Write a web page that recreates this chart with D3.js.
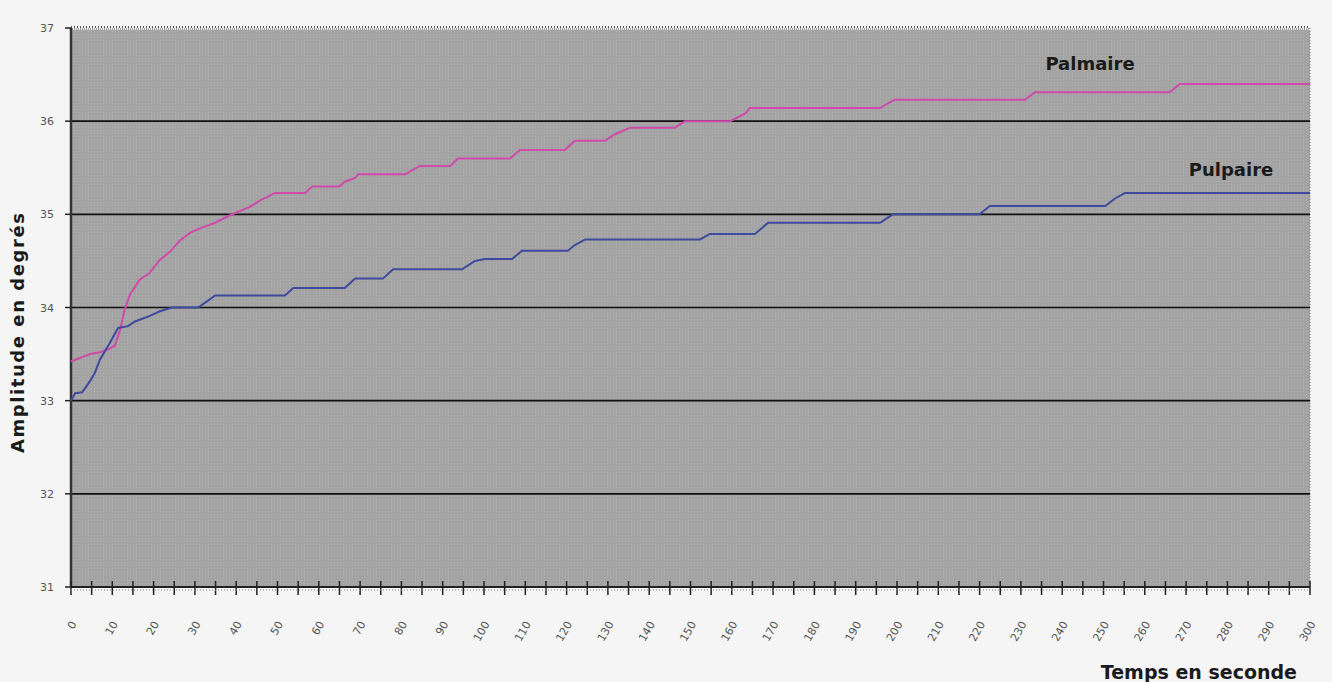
<!DOCTYPE html>
<html>
<head>
<meta charset="utf-8">
<script src="https://cdn.jsdelivr.net/npm/d3@7"></script>
<style>
  body { margin: 0; background: #ffffff; }
  svg { display: block; }
  .tick-label { font-family: "DejaVu Sans", Verdana, sans-serif; font-size: 11px; fill: #555; }
  .title { font-family: "DejaVu Sans", Verdana, sans-serif; font-weight: bold; fill: #1a1a1a; }
</style>
</head>
<body>
<svg width="1332" height="682"></svg>
<script>
'use strict';

// y ticks (degrees)
var yTicks = [31, 32, 33, 34, 35, 36, 37];
// x tick labels (seconds)
var xLabels = d3.range(0, 301, 10);

// Palmaire series
var palmaireTime = [0, 4.6, 7, 9.4, 10.6, 11.9, 13, 14.3, 16.7, 19, 21.5, 24, 26.4, 28.8, 31.2, 34.9, 38.5, 43.3, 45.8, 47.7, 49.4, 56.7, 58.4, 65, 66.3, 68.8, 69.5, 81, 82.4, 84.5, 91.8, 93.7, 106.3, 108.7, 119.6, 122, 129.3, 131.7, 135.4, 146.2, 148.7, 159.6, 163.2, 164.4, 195.9, 197.8, 199.5, 231, 233.4, 266, 268.5, 300];
var palmaireValue = [33.42, 33.5, 33.52, 33.56, 33.59, 33.76, 33.98, 34.14, 34.3, 34.37, 34.51, 34.6, 34.72, 34.8, 34.85, 34.91, 34.99, 35.08, 35.15, 35.19, 35.23, 35.23, 35.3, 35.3, 35.35, 35.39, 35.43, 35.43, 35.47, 35.52, 35.52, 35.6, 35.6, 35.69, 35.69, 35.79, 35.79, 35.86, 35.93, 35.93, 36.0, 36.0, 36.08, 36.14, 36.14, 36.19, 36.23, 36.23, 36.31, 36.31, 36.4, 36.4];

// Pulpaire series
var pulpaireTime = [0, 1, 2.7, 4.6, 5.8, 7, 9.4, 11.4, 13.8, 15.5, 19.1, 21.5, 24.5, 30.8, 32.4, 34.9, 51.8, 53.8, 66.3, 68.8, 75.5, 78, 94.7, 97.8, 100.2, 106.8, 109.2, 120.3, 122, 124.5, 152.3, 154.7, 165.6, 168.8, 195.9, 199, 220, 222.5, 250.4, 252.8, 255.2, 300];
var pulpaireValue = [33.0, 33.08, 33.09, 33.21, 33.3, 33.44, 33.62, 33.78, 33.8, 33.85, 33.91, 33.96, 34.0, 34.0, 34.05, 34.13, 34.13, 34.21, 34.21, 34.31, 34.31, 34.41, 34.41, 34.5, 34.52, 34.52, 34.61, 34.61, 34.67, 34.73, 34.73, 34.79, 34.79, 34.91, 34.91, 35.0, 35.0, 35.09, 35.09, 35.17, 35.23, 35.23];

var svg = d3.select('svg');

var plotLeft = 71, plotRight = 1310, plotTop = 28, plotBottom = 587;

var x = d3.scaleLinear().domain([0, 300]).range([plotLeft, plotRight]);
var y = d3.scaleLinear().domain([31, 37]).range([plotBottom, plotTop]);

// page background
svg.append('rect').attr('width', 1332).attr('height', 682).attr('fill', '#f4f5f4');

// dotted texture for plot area
var defs = svg.append('defs');
var pat = defs.append('pattern')
    .attr('id', 'dots')
    .attr('width', 3)
    .attr('height', 3)
    .attr('patternUnits', 'userSpaceOnUse');
pat.append('rect').attr('width', 3).attr('height', 3).attr('fill', '#a3a3a3');
pat.append('rect').attr('x', 1).attr('y', 1).attr('width', 1).attr('height', 1).attr('fill', '#b1b1b1');

svg.append('rect')
    .attr('x', plotLeft)
    .attr('y', plotTop)
    .attr('width', plotRight - plotLeft)
    .attr('height', plotBottom - plotTop)
    .attr('fill', 'url(#dots)');

// dotted top border
svg.append('line')
    .attr('x1', plotLeft).attr('x2', plotRight)
    .attr('y1', plotTop - 1).attr('y2', plotTop - 1)
    .attr('stroke', '#555')
    .attr('stroke-width', 2)
    .attr('stroke-dasharray', '1,2');
svg.append('line')
    .attr('x1', plotLeft).attr('x2', plotRight)
    .attr('y1', plotTop + 1).attr('y2', plotTop + 1)
    .attr('stroke', '#fff')
    .attr('stroke-width', 1.5)
    .attr('stroke-dasharray', '1,1');
svg.append('line')
    .attr('x1', plotRight).attr('x2', plotRight)
    .attr('y1', plotTop).attr('y2', plotBottom)
    .attr('stroke', '#777')
    .attr('stroke-width', 1)
    .attr('stroke-dasharray', '1,2');

// horizontal gridlines
svg.append('g').selectAll('line')
    .data(yTicks.filter(function (d) { return d > 31 && d < 37; }))
    .enter().append('line')
    .attr('x1', plotLeft).attr('x2', plotRight)
    .attr('y1', function (d) { return y(d); })
    .attr('y2', function (d) { return y(d); })
    .attr('stroke', '#111')
    .attr('stroke-width', 1.6);

// y axis
var yAxis = svg.append('g');
yAxis.append('line')
    .attr('x1', plotLeft).attr('x2', plotLeft)
    .attr('y1', plotTop).attr('y2', plotBottom)
    .attr('stroke', '#333')
    .attr('stroke-width', 2.5);
yAxis.selectAll('line.tk')
    .data(yTicks)
    .enter().append('line')
    .attr('class', 'tk')
    .attr('x1', plotLeft - 6).attr('x2', plotLeft)
    .attr('y1', function (d) { return y(d); })
    .attr('y2', function (d) { return y(d); })
    .attr('stroke', '#222')
    .attr('stroke-width', 1.5);
yAxis.selectAll('text')
    .data(yTicks)
    .enter().append('text')
    .attr('class', 'tick-label')
    .attr('x', 47)
    .attr('y', function (d) { return y(d) + 4; })
    .attr('text-anchor', 'middle')
    .attr('font-size', 12)
    .text(function (d) { return d; });

// x axis
var xAxis = svg.append('g');
xAxis.append('line')
    .attr('x1', plotLeft).attr('x2', plotRight)
    .attr('y1', plotBottom).attr('y2', plotBottom)
    .attr('stroke', '#222')
    .attr('stroke-width', 2);
xAxis.selectAll('line.tk')
    .data(d3.range(0, 301, 5))
    .enter().append('line')
    .attr('class', 'tk')
    .attr('x1', function (d) { return x(d); })
    .attr('x2', function (d) { return x(d); })
    .attr('y1', plotBottom - 6)
    .attr('y2', plotBottom + 8)
    .attr('stroke', '#222')
    .attr('stroke-width', 1.5);
xAxis.append('line')
    .attr('x1', plotLeft).attr('x2', plotRight)
    .attr('y1', plotBottom + 3).attr('y2', plotBottom + 3)
    .attr('stroke', '#888')
    .attr('stroke-width', 1)
    .attr('stroke-dasharray', '1,2');
xAxis.selectAll('text')
    .data(xLabels)
    .enter().append('text')
    .attr('class', 'tick-label')
    .attr('text-anchor', 'end')
    .attr('font-size', 13)
    .attr('transform', function (d) {
        return 'translate(' + (x(d) + 6) + ',' + 624 + ') rotate(-60)';
    })
    .text(function (d) { return d; });

// series
var line = d3.line()
    .x(function (d) { return x(d[0]); })
    .y(function (d) { return y(d[1]); });

svg.append('path')
    .datum(d3.zip(palmaireTime, palmaireValue))
    .attr('d', line)
    .attr('fill', 'none')
    .attr('stroke', '#cf4aaa')
    .attr('stroke-width', 2);

svg.append('path')
    .datum(d3.zip(pulpaireTime, pulpaireValue))
    .attr('d', line)
    .attr('fill', 'none')
    .attr('stroke', '#3f4a9e')
    .attr('stroke-width', 2);

// series labels
svg.append('text')
    .attr('class', 'title')
    .attr('x', 1090).attr('y', 70)
    .attr('text-anchor', 'middle')
    .attr('font-size', 18)
    .text('Palmaire');
svg.append('text')
    .attr('class', 'title')
    .attr('font-size', 18)
    .attr('x', 1231).attr('y', 176)
    .attr('text-anchor', 'middle')
    .text('Pulpaire');

// axis titles
svg.append('text')
    .attr('class', 'title')
    .attr('font-size', 18)
    .attr('text-anchor', 'middle')
    .attr('textLength', 240)
    .attr('lengthAdjust', 'spacing')
    .attr('transform', 'translate(24,' + 333 + ') rotate(-90)')
    .text('Amplitude en degrés');
svg.append('text')
    .attr('class', 'title')
    .attr('font-size', 19)
    .attr('text-anchor', 'end')
    .attr('x', 1297).attr('y', 679)
    .text('Temps en seconde');
</script>
</body>
</html>
